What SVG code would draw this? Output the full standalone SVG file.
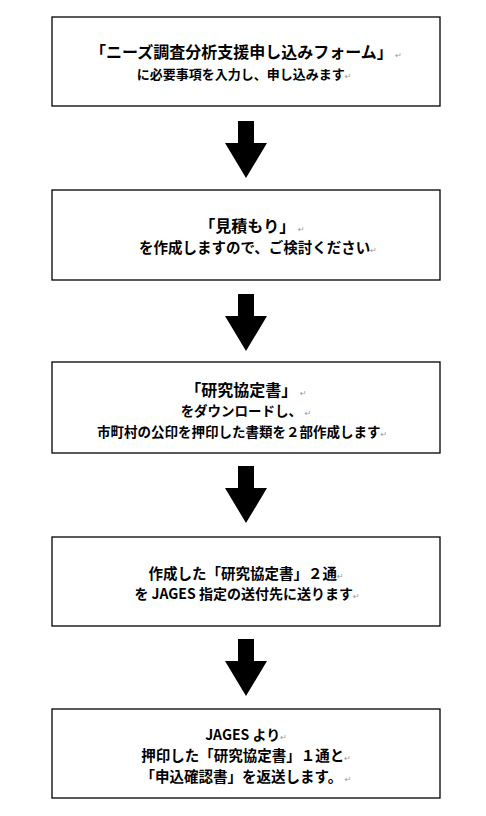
<svg xmlns="http://www.w3.org/2000/svg" width="486" height="816" viewBox="0 0 486 816">
<defs>
<style>
.box{fill:#fff;stroke:#000;stroke-width:1.3}
.t{font-family:"Noto Sans CJK JP","Noto Sans CJK SC",sans-serif;font-weight:bold;fill:#000;text-anchor:middle}
.r{font-family:"DejaVu Sans",sans-serif;font-weight:normal;fill:#9a9a9a;font-size:8px}
.arr{fill:#000}
</style>
<path id="arrow" d="M-8,0 H8 V22 H21 L0,57 L-21,22 H-8 Z"/>
</defs>
<rect width="486" height="816" fill="#fff"/>
<g id="connectors">
<use href="#arrow" class="arr" x="246" y="121"/>
<use href="#arrow" class="arr" x="246" y="294"/>
<use href="#arrow" class="arr" x="246" y="466"/>
<use href="#arrow" class="arr" x="246" y="639"/>
</g>
<g id="step1">
<rect class="box" x="52" y="17" width="388" height="89"/>
<text class="t" x="246" y="58" font-size="16">「ニーズ調査分析支援申し込みフォーム」<tspan class="r"> ↵</tspan></text>
<text class="t" x="244" y="79" font-size="13">に必要事項を入力し、申し込みます<tspan class="r">↵</tspan></text>
</g>
<g id="step2">
<rect class="box" x="52" y="190" width="388" height="90"/>
<text class="t" x="252" y="232" font-size="16">「見積もり」<tspan class="r"> ↵</tspan></text>
<text class="t" x="258" y="253" font-size="14.5">を作成しますので、ご検討ください<tspan class="r">↵</tspan></text>
</g>
<g id="step3">
<rect class="box" x="52" y="362" width="388" height="91"/>
<text class="t" x="246" y="396" font-size="16">「研究協定書」<tspan class="r"> ↵</tspan></text>
<text class="t" x="246" y="416" font-size="13.5">をダウンロードし、<tspan class="r"> ↵</tspan></text>
<text class="t" x="242" y="437" font-size="13.5">市町村の公印を押印した書類を２部作成します<tspan class="r">↵</tspan></text>
</g>
<g id="step4">
<rect class="box" x="52" y="537" width="388" height="89"/>
<text class="t" x="246" y="579" font-size="14.5">作成した「研究協定書」２通<tspan class="r">↵</tspan></text>
<text class="t" x="247" y="599" font-size="14">を JAGES 指定の送付先に送ります<tspan class="r">↵</tspan></text>
</g>
<g id="step5">
<rect class="box" x="52" y="709" width="388" height="89"/>
<text class="t" x="246" y="740" font-size="14">JAGES より<tspan class="r">↵</tspan></text>
<text class="t" x="246" y="761" font-size="14.5">押印した「研究協定書」１通と<tspan class="r">↵</tspan></text>
<text class="t" x="246" y="782" font-size="14.5">「申込確認書」を返送します。<tspan class="r"> ↵</tspan></text>
</g>
</svg>
